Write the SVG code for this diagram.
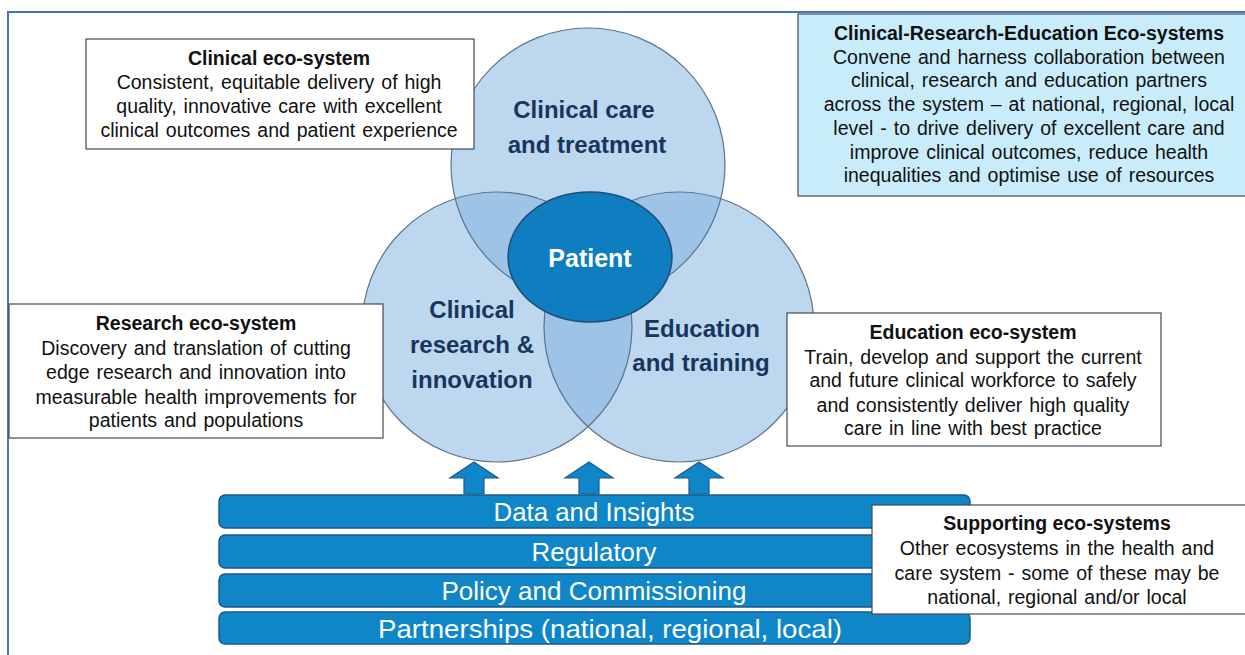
<svg xmlns="http://www.w3.org/2000/svg" width="1245" height="655" viewBox="0 0 1245 655">
  <style>
    .frame { stroke: #4472C4; stroke-width: 2; fill: none; }
    .box { fill: #FFFFFF; stroke: #3F4A55; stroke-width: 1.2; }
    .box-blue { fill: #C9ECFB; stroke: #3F4A55; stroke-width: 1.2; }
    .t { font-family: "Liberation Sans", Arial, sans-serif; font-size: 19.5px; fill: #111111; text-anchor: middle; word-spacing: 1.5px; }
    .tb { font-weight: bold; word-spacing: 0; }
    .circle { fill: #BDD7EE; }
    .lens { fill: #9DC3E6; }
    .ring { fill: none; stroke: #5B7490; stroke-width: 1.2; }
    .clabel { font-family: "Liberation Sans", Arial, sans-serif; font-size: 24px; font-weight: bold; fill: #17365D; text-anchor: middle; }
    .patient { fill: #0E7EC0; stroke: #1F4E79; stroke-width: 1.5; }
    .plabel { font-family: "Liberation Sans", Arial, sans-serif; font-size: 25px; font-weight: bold; fill: #FFFFFF; text-anchor: middle; }
    .bar { fill: #0E86C8; stroke: #1D5A86; stroke-width: 1.5; }
    .blabel { font-family: "Liberation Sans", Arial, sans-serif; font-size: 25.5px; fill: #FFFFFF; text-anchor: middle; }
    .arrow { fill: #0E86C8; stroke: #1D5A86; stroke-width: 1.2; }
  </style>
  <defs>
    <circle id="cTop" cx="588" cy="165" r="137"/>
    <circle id="cLeft" cx="497" cy="327" r="135"/>
    <circle id="cRight" cx="679" cy="327" r="135"/>
    <clipPath id="clipTop"><use href="#cTop"/></clipPath>
    <clipPath id="clipLeft"><use href="#cLeft"/></clipPath>
    <path id="upArrow" d="M0,-16 L24,0 L10,0 L10,16 L-10,16 L-10,0 L-24,0 Z"/>
  </defs>

  <rect width="1245" height="655" fill="#FFFFFF"/>
  <path class="frame" d="M8,655 L8,12 L1245,12"/>

  <!-- Venn of the three eco-systems -->
  <g id="venn">
    <use href="#cTop" class="circle"/>
    <use href="#cLeft" class="circle"/>
    <use href="#cRight" class="circle"/>
    <!-- pairwise overlaps -->
    <g clip-path="url(#clipTop)">
      <use href="#cLeft" class="lens"/>
      <use href="#cRight" class="lens"/>
    </g>
    <g clip-path="url(#clipLeft)">
      <use href="#cRight" class="lens"/>
    </g>
    <use href="#cTop" class="ring"/>
    <use href="#cLeft" class="ring"/>
    <use href="#cRight" class="ring"/>
  </g>

  <g id="node-clinical-care">
    <text class="clabel" x="584" y="118">Clinical care</text>
    <text class="clabel" x="587" y="153">and treatment</text>
  </g>
  <g id="node-research">
    <text class="clabel" x="472" y="318">Clinical</text>
    <text class="clabel" x="472" y="353">research &amp;</text>
    <text class="clabel" x="472" y="388">innovation</text>
  </g>
  <g id="node-education">
    <text class="clabel" x="702" y="337">Education</text>
    <text class="clabel" x="701" y="371">and training</text>
  </g>
  <g id="node-patient">
    <ellipse class="patient" cx="590" cy="257" rx="82" ry="65"/>
    <text class="plabel" x="590" y="267">Patient</text>
  </g>

  <!-- upward arrows from the supporting layers -->
  <g id="connectors">
    <use href="#upArrow" class="arrow" x="474" y="478"/>
    <use href="#upArrow" class="arrow" x="589" y="478"/>
    <use href="#upArrow" class="arrow" x="699" y="478"/>
  </g>

  <!-- supporting layers -->
  <g id="layer-data">
    <rect class="bar" x="219" y="495" width="751" height="33" rx="6"/>
    <text class="blabel" x="594" y="521" textLength="201" lengthAdjust="spacingAndGlyphs">Data and Insights</text>
  </g>
  <g id="layer-regulatory">
    <rect class="bar" x="219" y="535" width="751" height="33" rx="6"/>
    <text class="blabel" x="594" y="561" textLength="125" lengthAdjust="spacingAndGlyphs">Regulatory</text>
  </g>
  <g id="layer-policy">
    <rect class="bar" x="219" y="574" width="751" height="33" rx="6"/>
    <text class="blabel" x="594" y="600" textLength="305" lengthAdjust="spacingAndGlyphs">Policy and Commissioning</text>
  </g>
  <g id="layer-partnerships">
    <rect class="bar" x="219" y="612" width="751" height="32" rx="6"/>
    <text class="blabel" x="610" y="638" textLength="464" lengthAdjust="spacingAndGlyphs">Partnerships (national, regional, local)</text>
  </g>

  <!-- description boxes -->
  <g id="box-clinical">
    <rect class="box" x="86" y="39" width="388" height="110"/>
    <text class="t tb" x="279" y="65">Clinical eco-system</text>
    <text class="t" x="279" y="89">Consistent, equitable delivery of high</text>
    <text class="t" x="279" y="113">quality,  innovative care with excellent</text>
    <text class="t" x="279" y="137">clinical outcomes and patient experience</text>
  </g>

  <g id="box-cre">
    <rect class="box-blue" x="798" y="14" width="452" height="182"/>
    <text class="t tb" x="1029" y="40">Clinical-Research-Education Eco-systems</text>
    <text class="t" x="1029" y="64">Convene and harness collaboration between</text>
    <text class="t" x="1029" y="87">clinical, research and education partners</text>
    <text class="t" x="1029" y="111">across the system – at national, regional, local</text>
    <text class="t" x="1029" y="135">level - to drive delivery of excellent care and</text>
    <text class="t" x="1029" y="159">improve clinical outcomes, reduce health</text>
    <text class="t" x="1029" y="182">inequalities and optimise use of resources</text>
  </g>

  <g id="box-research">
    <rect class="box" x="9" y="304" width="374" height="134"/>
    <text class="t tb" x="196" y="330">Research eco-system</text>
    <text class="t" x="196" y="355">Discovery and translation of cutting</text>
    <text class="t" x="196" y="379">edge research and innovation into</text>
    <text class="t" x="196" y="404">measurable health improvements for</text>
    <text class="t" x="196" y="427">patients and populations</text>
  </g>

  <g id="box-education">
    <rect class="box" x="787" y="313" width="374" height="133"/>
    <text class="t tb" x="973" y="339">Education eco-system</text>
    <text class="t" x="973" y="364">Train, develop and support the current</text>
    <text class="t" x="973" y="387">and future clinical workforce to safely</text>
    <text class="t" x="973" y="412">and consistently deliver high quality</text>
    <text class="t" x="973" y="435">care in line with best practice</text>
  </g>

  <g id="box-supporting">
    <rect class="box" x="872" y="505" width="380" height="109"/>
    <text class="t tb" x="1057" y="530">Supporting eco-systems</text>
    <text class="t" x="1057" y="555">Other ecosystems in the health and</text>
    <text class="t" x="1057" y="580">care system  - some of these may be</text>
    <text class="t" x="1057" y="604">national, regional and/or local</text>
  </g>
</svg>
